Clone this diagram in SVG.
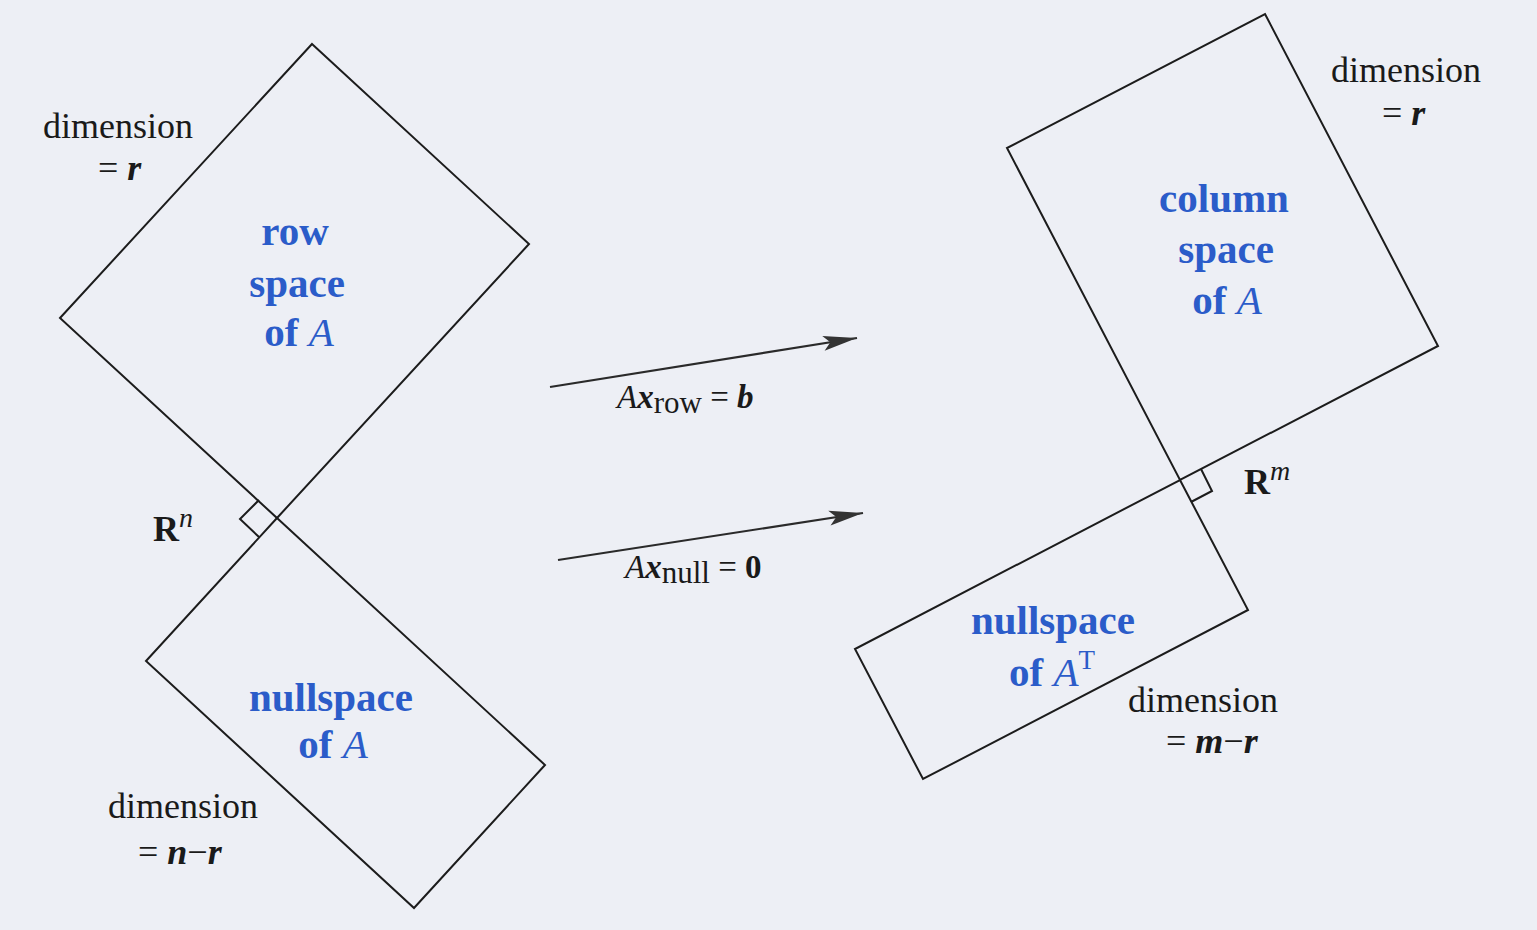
<svg xmlns="http://www.w3.org/2000/svg" width="1537" height="930" viewBox="0 0 1537 930">
  <style>
    .page { fill: #edeff5; }
    .box { fill: none; stroke: #1c1c1c; stroke-width: 2; stroke-linejoin: miter; }
    .mark { fill: none; stroke: #1c1c1c; stroke-width: 2; }
    .arrow { fill: none; stroke: #2a2a2a; stroke-width: 2.2; }
    .lbl { font-family: "Liberation Serif", "Times New Roman", serif; font-size: 36px; fill: #1a1a1a; }
    .name { font-family: "Liberation Serif", "Times New Roman", serif; font-size: 41px; font-weight: bold; fill: #2b5cc9; text-anchor: middle; }
    .eq { font-family: "Liberation Serif", "Times New Roman", serif; font-size: 33px; fill: #1a1a1a; }
    .bi { font-weight: bold; font-style: italic; }
    .it { font-style: italic; font-weight: normal; }
    .up { font-style: normal; font-weight: normal; }
    .b { font-weight: bold; }
  </style>
  <defs>
    <marker id="head" markerUnits="userSpaceOnUse" markerWidth="40" markerHeight="20" viewBox="-36 -10 40 20" refX="0" refY="0" orient="auto">
      <path d="M0,0 L-34,-7.5 L-27,0 L-34,7.5 Z" fill="#333333"/>
    </marker>
  </defs>

  <rect class="page" x="0" y="0" width="1537" height="930"/>

  <g id="row-space">
    <polygon class="box" points="312,44 529,244 277,518 60,318"/>
    <text class="name" x="295" y="245">row</text>
    <text class="name" x="297" y="297">space</text>
    <text class="name" x="299" y="346">of <tspan class="it">A</tspan></text>
    <text class="lbl" x="43" y="138">dimension</text>
    <text class="lbl" x="98" y="180">= <tspan class="bi">r</tspan></text>
  </g>

  <g id="nullspace-A">
    <polygon class="box" points="277,518 545,765 414,908 146,661"/>
    <text class="name" x="331" y="711">nullspace</text>
    <text class="name" x="333" y="758">of <tspan class="it">A</tspan></text>
    <text class="lbl" x="108" y="818">dimension</text>
    <text class="lbl" x="138" y="864">= <tspan class="bi">n</tspan>−<tspan class="bi">r</tspan></text>
  </g>

  <g id="Rn">
    <polyline class="mark" points="259,500 240,519 259,537"/>
    <text class="lbl" x="153" y="541"><tspan class="b">R</tspan><tspan class="it" font-size="28" dy="-14">n</tspan></text>
  </g>

  <g id="column-space">
    <polygon class="box" points="1265,14 1438,346 1180,480 1007,148"/>
    <text class="name" x="1224" y="212">column</text>
    <text class="name" x="1226" y="263">space</text>
    <text class="name" x="1227" y="314">of <tspan class="it">A</tspan></text>
    <text class="lbl" x="1331" y="82">dimension</text>
    <text class="lbl" x="1382" y="125">= <tspan class="bi">r</tspan></text>
  </g>

  <g id="nullspace-AT">
    <polygon class="box" points="1180,480 1248,610 923,779 855,649"/>
    <text class="name" x="1053" y="634">nullspace</text>
    <text class="name" x="1052" y="686">of <tspan class="it">A</tspan><tspan class="up" font-size="27" dy="-17">T</tspan></text>
    <text class="lbl" x="1128" y="712">dimension</text>
    <text class="lbl" x="1166" y="753">= <tspan class="bi">m</tspan>−<tspan class="bi">r</tspan></text>
  </g>

  <g id="Rm">
    <polyline class="mark" points="1201,469 1212,491 1191,502"/>
    <text class="lbl" x="1244" y="494"><tspan class="b">R</tspan><tspan class="it" font-size="28" dy="-14">m</tspan></text>
  </g>

  <g id="connectors">
    <line class="arrow" x1="550" y1="387" x2="857" y2="338" marker-end="url(#head)"/>
    <line class="arrow" x1="558" y1="560" x2="863" y2="513" marker-end="url(#head)"/>
    <text class="eq" x="617" y="408"><tspan class="it">A</tspan><tspan class="bi">x</tspan><tspan font-size="31" dy="5">row</tspan><tspan dy="-5"> = </tspan><tspan class="bi">b</tspan></text>
    <text class="eq" x="625" y="578"><tspan class="it">A</tspan><tspan class="bi">x</tspan><tspan font-size="31" dy="5">null</tspan><tspan dy="-5"> = </tspan><tspan class="b">0</tspan></text>
  </g>
</svg>
